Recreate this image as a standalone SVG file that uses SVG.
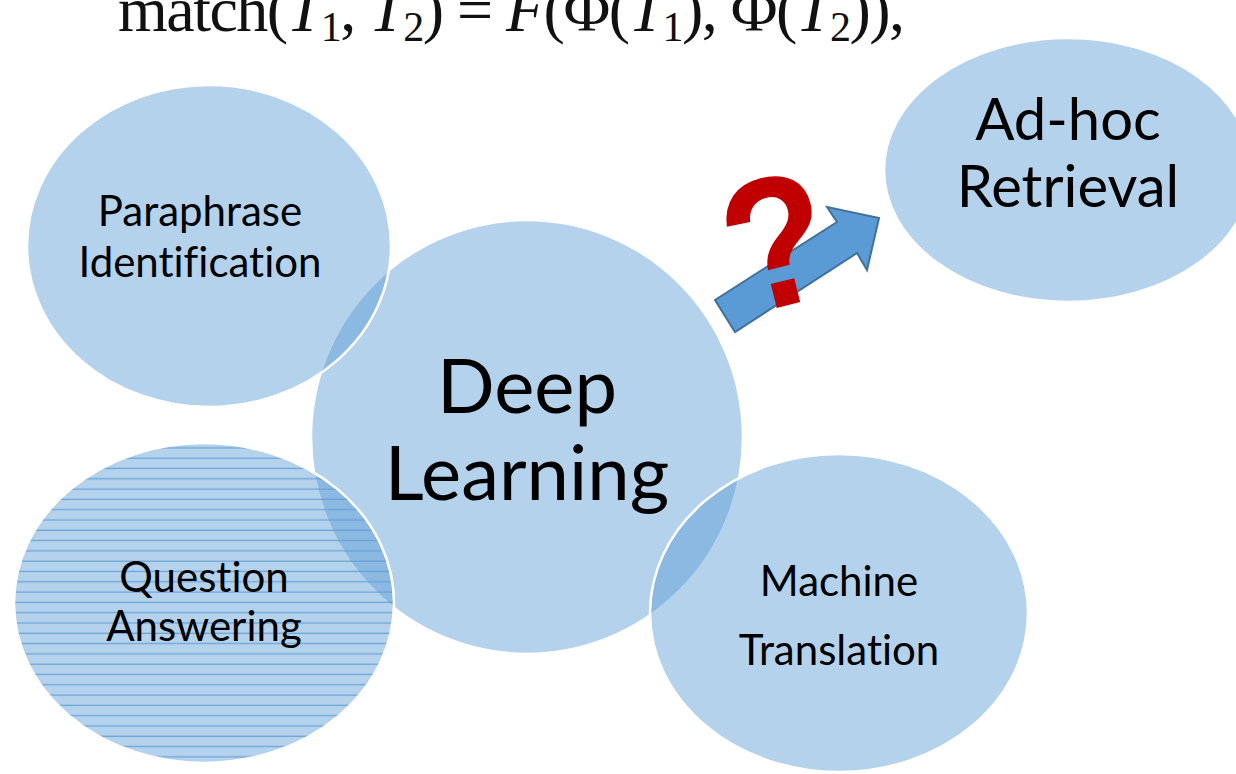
<svg xmlns="http://www.w3.org/2000/svg" width="1236" height="774" viewBox="0 0 1236 774">
<style>
.node{fill:#5b9bd5;fill-opacity:0.45;stroke:#ffffff;stroke-width:2.5}
.lbl{font-family:Lato,"Open Sans",sans-serif;fill:#000;text-anchor:middle;font-variant-ligatures:none;font-feature-settings:"liga" 0}
.f{font-family:"Liberation Serif","DejaVu Serif",serif;fill:#111}
</style>
<defs>
<pattern id="hatch" width="12" height="10.3" patternUnits="userSpaceOnUse">
<rect width="12" height="10.3" fill="#5b9bd5" fill-opacity="0.45"/>
<line x1="0" y1="5" x2="12" y2="5" stroke="#5b9bd5" stroke-width="1.3" stroke-opacity="0.8"/>
</pattern>
</defs>
<rect width="1236" height="774" fill="#ffffff"/>
<text class="f" x="118" y="31" font-size="64" textLength="787" lengthAdjust="spacing">match(<tspan font-style="italic">T</tspan><tspan font-size="42" dy="10">1</tspan><tspan dy="-10">, </tspan><tspan font-style="italic">T</tspan><tspan font-size="42" dy="10">2</tspan><tspan dy="-10">) = </tspan><tspan font-style="italic">F</tspan>(Φ(<tspan font-style="italic">T</tspan><tspan font-size="42" dy="10">1</tspan><tspan dy="-10">), Φ(</tspan><tspan font-style="italic">T</tspan><tspan font-size="42" dy="10">2</tspan><tspan dy="-10">)),</tspan></text>
<g id="deep-learning">
<ellipse class="node" cx="527" cy="437" rx="216" ry="217"/>
<text class="lbl" x="527" y="413" font-size="76">Deep</text>
<text class="lbl" x="527" y="500" font-size="76">Learning</text>
</g>
<g id="paraphrase">
<ellipse class="node" cx="209" cy="246" rx="182" ry="161"/>
<text class="lbl" x="200" y="226" font-size="42">Paraphrase</text>
<text class="lbl" x="200" y="277" font-size="42">Identification</text>
</g>
<g id="question-answering">
<ellipse cx="204" cy="603" rx="190" ry="160" style="fill:url(#hatch);stroke:#ffffff;stroke-width:2.5"/>
<text class="lbl" x="204" y="592" font-size="42">Question</text>
<text class="lbl" x="204" y="641" font-size="42">Answering</text>
</g>
<g id="machine-translation">
<ellipse class="node" cx="839" cy="613" rx="189" ry="159"/>
<text class="lbl" x="839" y="596" font-size="42">Machine</text>
<text class="lbl" x="839" y="665" font-size="42">Translation</text>
</g>
<g id="adhoc-retrieval">
<ellipse class="node" cx="1068" cy="170" rx="184" ry="132"/>
<text class="lbl" x="1068" y="140" font-size="58">Ad-hoc</text>
<text class="lbl" x="1068" y="207" font-size="58">Retrieval</text>
</g>
<g id="connectors">
<path d="M715,300 L837,222 L827,207 L879,218 L867,270 L857,253 L735,332 Z" fill="#5b9bd5" stroke="#41719c" stroke-width="2" stroke-linejoin="miter"/>
<text x="0" y="0" transform="translate(792,304) rotate(-14) scale(0.92,1)" font-family="Liberation Sans,sans-serif" font-weight="bold" font-size="186" fill="#c00000" text-anchor="middle">?</text>
</g>
</svg>
